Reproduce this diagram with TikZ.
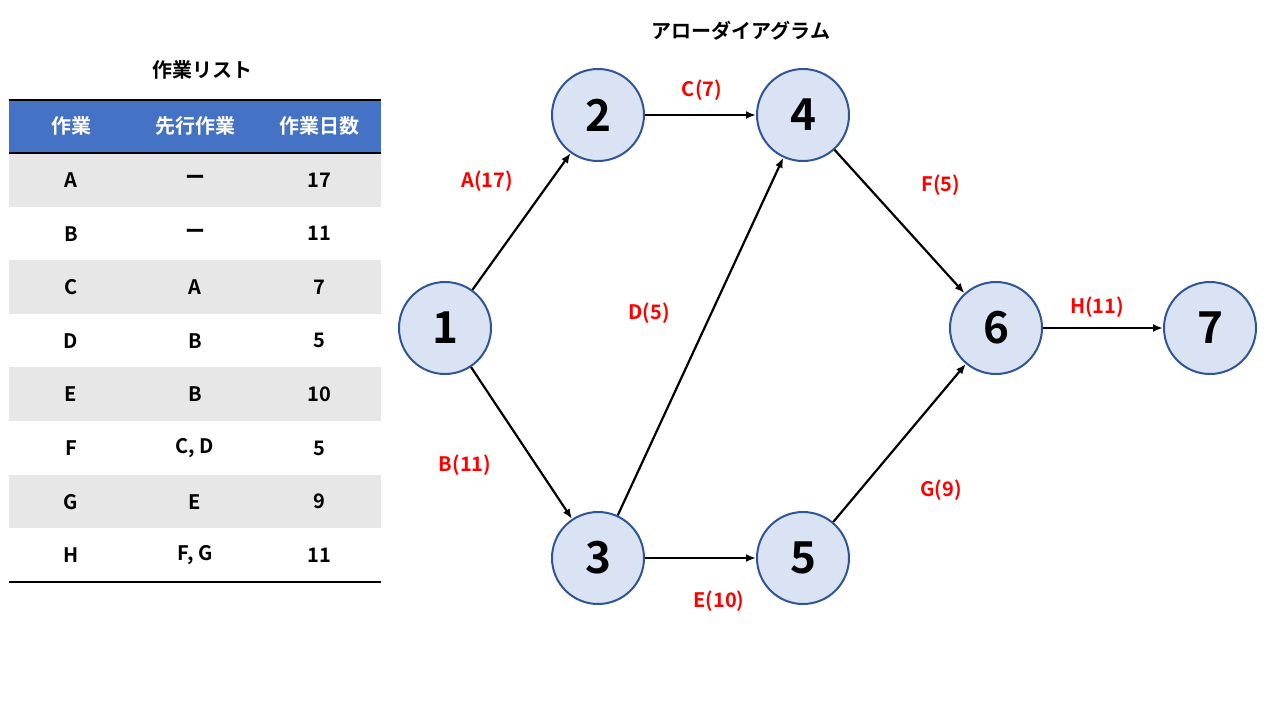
\documentclass[tikz,border=0pt]{standalone}
\usepackage{fontspec}
\setmainfont{Noto Sans CJK JP}[BoldFont={* Bold}]
\usetikzlibrary{arrows.meta}
\definecolor{nodefill}{HTML}{DAE3F3}
\definecolor{nodeline}{HTML}{2F5597}
\definecolor{headblue}{HTML}{4472C4}
\definecolor{rowgray}{HTML}{E7E7E7}
\tikzset{every picture/.style={line width=1pt}}
\tikzset{
  event/.style={circle, draw=nodeline, fill=nodefill, line width=2pt, minimum size=92pt, inner sep=0pt, font=\fontsize{44}{44}\selectfont\bfseries},
  act/.style={-{Latex[length=10pt,width=8pt]}, line width=2.2pt},
  actlabel/.style={text=red, font=\fontsize{20}{24}\selectfont\bfseries},
  cell/.style={font=\fontsize{20}{24}\selectfont\bfseries},
}

\begin{document}
\begin{tikzpicture}[x=1pt,y=1pt,yscale=-1,xscale=1]
  \useasboundingbox (0,0) rectangle (1280,720);

  % table
  \node[cell] (ttl) at (202,70) {作業リスト};
  \fill[headblue] (9,100) rectangle (381,153);
  \foreach \r in {0,2,4,6} {
    \fill[rowgray] (9,{153+53.6*\r}) rectangle (381,{153+53.6*(\r+1)});
  }
  \draw[line width=2pt] (9,100) -- (381,100);
  \draw[line width=2pt] (9,153) -- (381,153);
  \draw[line width=2pt] (9,582) -- (381,582);
  \node[cell, text=white] (h1) at (71,126) {作業};
  \node[cell, text=white] (h2) at (195,126) {先行作業};
  \node[cell, text=white] (h3) at (319,126) {作業日数};
  \foreach \a/\b/\c [count=\i from 0] in {A/ー/17, B/ー/11, C/A/7, D/B/5, E/B/10, F/{C, D}/5, G/E/9, H/{F, G}/11} {
    \node[cell] (ca\i) at (71,{180+53.6*\i}) {\a};
    \node[cell] (cb\i) at (195,{180+53.6*\i}) {\b};
    \node[cell] (cc\i) at (319,{180+53.6*\i}) {\c};
  }

  % arrow diagram
  \node[cell] (dttl) at (741,31) {アローダイアグラム};
  \node[event] (n1) at (445,328) {1};
  \node[event] (n2) at (598,115) {2};
  \node[event] (n3) at (598,558) {3};
  \node[event] (n4) at (803,115) {4};
  \node[event] (n5) at (803,558) {5};
  \node[event] (n6) at (996,328) {6};
  \node[event] (n7) at (1210,328) {7};

  \draw[act] (n1) -- (n2);
  \draw[act] (n1) -- (n3);
  \draw[act] (n2) -- (n4);
  \draw[act] (n3) -- (n4);
  \draw[act] (n3) -- (n5);
  \draw[act] (n4) -- (n6);
  \draw[act] (n5) -- (n6);
  \draw[act] (n6) -- (n7);

  \node[actlabel] (la) at (487,181) {A(17)};
  \node[actlabel] (lb) at (465,465) {B(11)};
  \node[actlabel] (lc) at (702,90) {C(7)};
  \node[actlabel] (ld) at (649,313) {D(5)};
  \node[actlabel] (le) at (719,601) {E(10)};
  \node[actlabel] (lf) at (941,185) {F(5)};
  \node[actlabel] (lg) at (941,490) {G(9)};
  \node[actlabel] (lh) at (1097,307) {H(11)};
\end{tikzpicture}
\end{document}
